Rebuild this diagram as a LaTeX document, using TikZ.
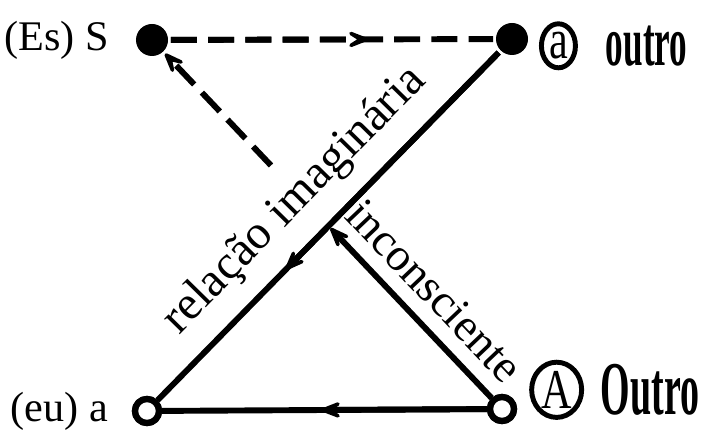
\documentclass[tikz,border=0pt]{standalone}
\usepackage{fontspec}
\setmainfont{Liberation Serif}
\newfontfamily\narrowfont[FakeStretch=0.5]{Liberation Serif}
\newfontfamily\ringfont[FakeStretch=0.75]{Liberation Serif}
\usetikzlibrary{arrows.meta, positioning, calc, shapes.geometric}

\begin{document}
\begin{tikzpicture}[x=0.025cm, y=-0.025cm, line width=4.2pt,
  arr/.style={-{Stealth[length=9mm, width=7mm, inset=5.5mm, round]}},
  full/.style={fill=black, circle, inner sep=0pt, minimum size=0.8cm},
  hollow/.style={draw=black, fill=white, circle, line width=4.5pt,
    inner sep=0pt, minimum size=0.6cm},
  lbl/.style={inner sep=0pt, outer sep=0pt, font=\fontsize{30}{34}\selectfont},
  slbl/.style={inner sep=0pt, outer sep=0pt, sloped, font=\fontsize{#1}{38}\selectfont},
  other/.style={inner sep=0pt, outer sep=0pt, font=\narrowfont\bfseries\fontsize{#1}{#1}\selectfont},
  ring/.style={draw, ellipse, line width=3.5pt, inner sep=0pt, font=\ringfont\fontsize{40}{44}\selectfont},
  dashline/.style={dash pattern=on 0.65cm off 0.28cm}]

% Frame
\useasboundingbox (0,0) rectangle (701,431);

% Corner points
\node[full] (S) at (152,40) {};
\node[full] (a) at (512,39) {};
\node[hollow] (eu) at (147,411) {};
\node[hollow] (A) at (502,409) {};

% Where the arrow tips sit
\coordinate (mSa) at ($(S)!0.6!(a)$);
\coordinate (mae) at ($(a)!0.62!(eu)$);
\coordinate (mAe) at ($(A)!0.51!(eu)$);
\coordinate (mAS) at ($(A)!0.49!(S)$);
\coordinate (dAS) at ($(A)!0.66!(S)$);

% S -> a (dashed)
\draw[dashline] (S) -- (a);
\draw[dashline, arr] (S) -- (mSa);

% a -> (eu) a
\draw (a) -- (eu) node[slbl=34, pos=0.51, above=0.5cm] {relação imaginária};
\draw[arr] (a) -- (mae);

% A -> (eu) a
\draw (A) -- (eu);
\draw[arr] (A) -- (mAe);

% A -> S, solid then dashed
\draw[arr] (A) -- (mAS) node[slbl=33, pos=0.5, above=0.42cm] {inconsciente};
\draw[dashline, arr] (dAS) -- (S);

% redraw the hollow points over the line ends
\node[hollow] at (eu) {};
\node[hollow] at (A) {};

% Labels
\node[lbl, left=0.6cm of S] (Es) {(Es) S};
\node[lbl, left=0.6cm of eu] (eulbl) {(eu) a};
\node[ring, minimum width=0.85cm, minimum height=1.1cm,
  right=0.2cm of a, yshift=-0.17cm] (ra) {a};
\node[other=50, right=0.7cm of ra] (outro) {outro};
\node[ring, minimum width=1.25cm, minimum height=1.38cm,
  right=0.3cm of A, yshift=0.48cm] (rA) {A};
\node[other=54, right=0.42cm of rA] (Outro) {Outro};

\end{tikzpicture}
\end{document}
